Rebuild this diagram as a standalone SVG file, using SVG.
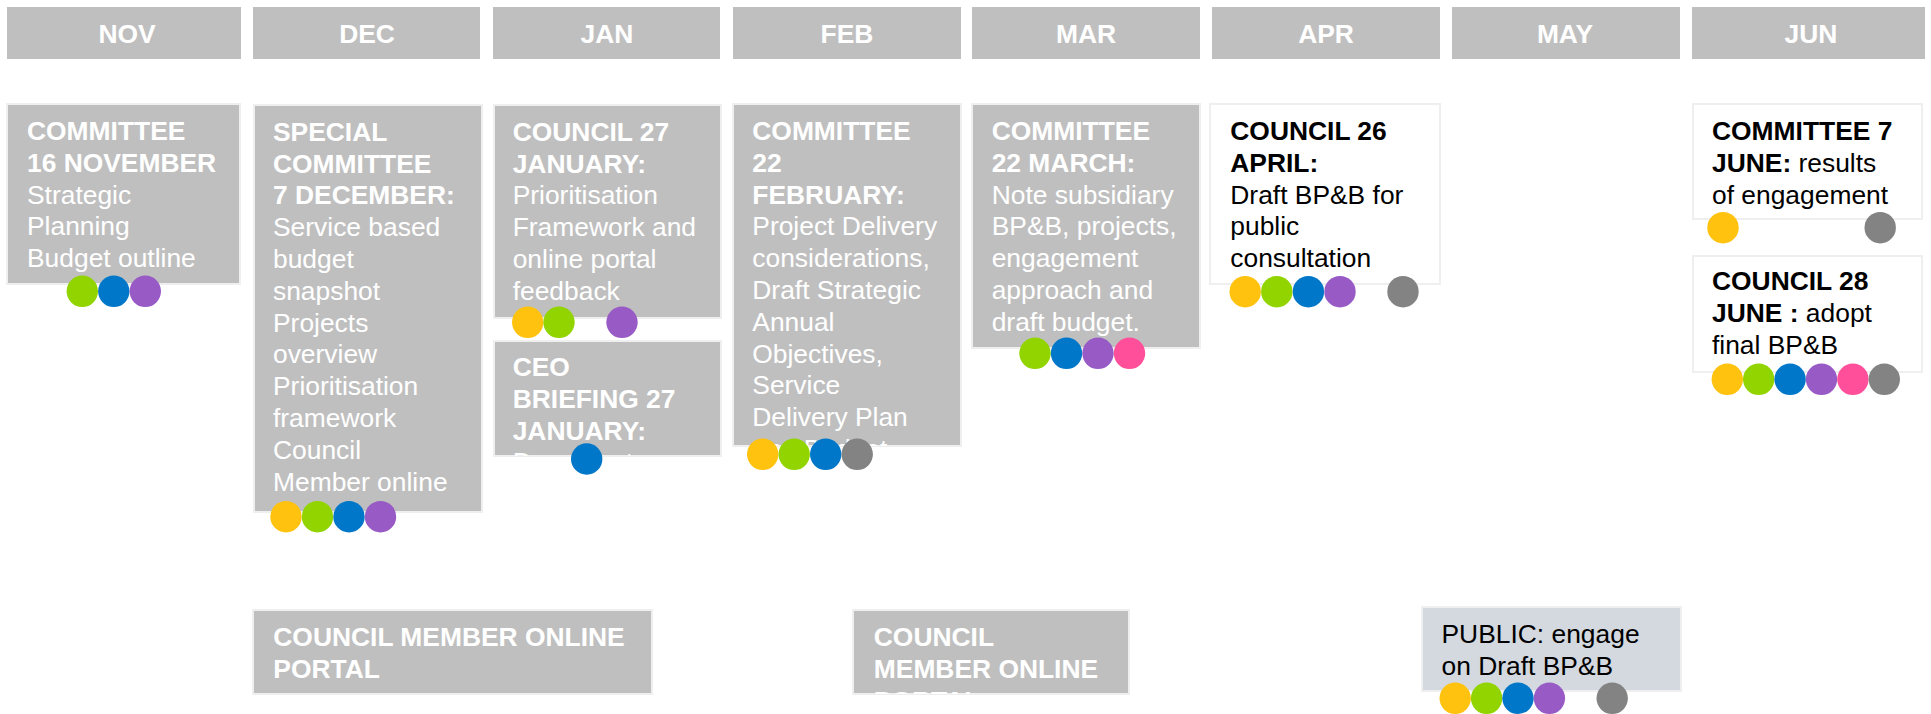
<svg xmlns="http://www.w3.org/2000/svg" width="1931" height="714" viewBox="0 0 1931 714">
<style>
.hd{fill:#bfbfbf}
.card{fill:#bfbfbf;stroke:#efefef;stroke-width:2}
.wcard{fill:#ffffff;stroke:#efefef;stroke-width:2}
.pcard{fill:#d3d9df;stroke:#efefef;stroke-width:2}
text{font-family:"Liberation Sans",Arial,Helvetica,sans-serif;font-size:26.4px}
.w{fill:#ffffff}
.k{fill:#000000}
.b{font-weight:bold}
.m{text-anchor:middle;font-weight:bold;fill:#ffffff}
.cy{fill:#FFC20E}
.cg{fill:#92D400}
.cb{fill:#0077C8}
.cp{fill:#985BC6}
.ck{fill:#FF4F9A}
.cr{fill:#838383}
</style>
<defs>
<clipPath id="clipFeb"><rect x="733" y="104" width="228" height="342"/></clipPath>
<clipPath id="clipCeo"><rect x="494" y="341" width="227" height="115"/></clipPath>
<clipPath id="clipCm2"><rect x="853" y="610" width="276" height="84"/></clipPath>
</defs>
<g id="header">
<rect class="hd" x="7" y="7" width="234" height="52"/>
<rect class="hd" x="253" y="7" width="227" height="52"/>
<rect class="hd" x="493" y="7" width="227" height="52"/>
<rect class="hd" x="733" y="7" width="228" height="52"/>
<rect class="hd" x="972" y="7" width="228" height="52"/>
<rect class="hd" x="1212" y="7" width="228" height="52"/>
<rect class="hd" x="1452" y="7" width="228" height="52"/>
<rect class="hd" x="1692" y="7" width="233" height="52"/>
<text class="m" x="127" y="43">NOV</text>
<text class="m" x="367" y="43">DEC</text>
<text class="m" x="607" y="43">JAN</text>
<text class="m" x="847" y="43">FEB</text>
<text class="m" x="1086" y="43">MAR</text>
<text class="m" x="1326" y="43">APR</text>
<text class="m" x="1565" y="43">MAY</text>
<text class="m" x="1811" y="43">JUN</text>
</g>
<g id="connectors"/>
<g id="nov-committee">
<rect class="card" x="7" y="104" width="233" height="180"/>
<text class="w b" x="27" y="140">COMMITTEE</text>
<text class="w b" x="27" y="171.8">16 NOVEMBER</text>
<text class="w" x="27" y="203.6">Strategic</text>
<text class="w" x="27" y="235.4">Planning</text>
<text class="w" x="27" y="267.2">Budget outline</text>
<circle class="cg" cx="82.3" cy="291.3" r="15.7"/>
<circle class="cb" cx="113.8" cy="291.3" r="15.7"/>
<circle class="cp" cx="145.3" cy="291.3" r="15.7"/>
</g>
<g id="dec-special-committee">
<rect class="card" x="254" y="105" width="228" height="407"/>
<text class="w b" x="273" y="140.7">SPECIAL</text>
<text class="w b" x="273" y="172.5">COMMITTEE</text>
<text class="w b" x="273" y="204.3">7 DECEMBER:</text>
<text class="w" x="273" y="236.1">Service based</text>
<text class="w" x="273" y="267.9">budget</text>
<text class="w" x="273" y="299.7">snapshot</text>
<text class="w" x="273" y="331.5">Projects</text>
<text class="w" x="273" y="363.3">overview</text>
<text class="w" x="273" y="395.1">Prioritisation</text>
<text class="w" x="273" y="426.9">framework</text>
<text class="w" x="273" y="458.7">Council</text>
<text class="w" x="273" y="490.5">Member online</text>
<circle class="cy" cx="286" cy="516.7" r="15.7"/>
<circle class="cg" cx="317.5" cy="516.7" r="15.7"/>
<circle class="cb" cx="349" cy="516.7" r="15.7"/>
<circle class="cp" cx="380.5" cy="516.7" r="15.7"/>
</g>
<g id="jan-council">
<rect class="card" x="494" y="105" width="227" height="213"/>
<text class="w b" x="512.7" y="140.7">COUNCIL 27</text>
<text class="w b" x="512.7" y="172.5">JANUARY:</text>
<text class="w" x="512.7" y="204.3">Prioritisation</text>
<text class="w" x="512.7" y="236.1">Framework and</text>
<text class="w" x="512.7" y="267.9">online portal</text>
<text class="w" x="512.7" y="299.7">feedback</text>
<circle class="cy" cx="527.7" cy="322.3" r="15.7"/>
<circle class="cg" cx="559" cy="322.3" r="15.7"/>
<circle class="cp" cx="622" cy="322.3" r="15.7"/>
</g>
<g id="jan-ceo-briefing">
<rect class="card" x="494" y="341" width="227" height="115"/>
<g clip-path="url(#clipCeo)">
<text class="w b" x="512.7" y="376">CEO</text>
<text class="w b" x="512.7" y="407.8">BRIEFING 27</text>
<text class="w b" x="512.7" y="439.6">JANUARY:</text>
<text class="w" x="512.7" y="471.4">Document</text>
</g>
<circle class="cb" cx="586.7" cy="459" r="15.7"/>
</g>
<g id="feb-committee">
<rect class="card" x="733" y="104" width="228" height="342"/>
<g clip-path="url(#clipFeb)">
<text class="w b" x="752.3" y="140">COMMITTEE</text>
<text class="w b" x="752.3" y="171.8">22</text>
<text class="w b" x="752.3" y="203.6">FEBRUARY:</text>
<text class="w" x="752.3" y="235.4">Project Delivery</text>
<text class="w" x="752.3" y="267.2">considerations,</text>
<text class="w" x="752.3" y="299">Draft Strategic</text>
<text class="w" x="752.3" y="330.8">Annual</text>
<text class="w" x="752.3" y="362.6">Objectives,</text>
<text class="w" x="752.3" y="394.4">Service</text>
<text class="w" x="752.3" y="426.2">Delivery Plan</text>
<text class="w" x="752.3" y="458">and Budget</text>
</g>
<circle class="cy" cx="762.7" cy="454.3" r="15.7"/>
<circle class="cg" cx="794.2" cy="454.3" r="15.7"/>
<circle class="cb" cx="825.7" cy="454.3" r="15.7"/>
<circle class="cr" cx="857.2" cy="454.3" r="15.7"/>
</g>
<g id="mar-committee">
<rect class="card" x="972" y="104" width="228" height="244"/>
<text class="w b" x="991.7" y="140">COMMITTEE</text>
<text class="w b" x="991.7" y="171.8">22 MARCH:</text>
<text class="w" x="991.7" y="203.6">Note subsidiary</text>
<text class="w" x="991.7" y="235.4">BP&amp;B, projects,</text>
<text class="w" x="991.7" y="267.2">engagement</text>
<text class="w" x="991.7" y="299">approach and</text>
<text class="w" x="991.7" y="330.8">draft budget.</text>
<circle class="cg" cx="1035" cy="353.3" r="15.7"/>
<circle class="cb" cx="1066.5" cy="353.3" r="15.7"/>
<circle class="cp" cx="1098" cy="353.3" r="15.7"/>
<circle class="ck" cx="1129.5" cy="353.3" r="15.7"/>
</g>
<g id="apr-council">
<rect class="wcard" x="1210" y="104" width="230" height="180"/>
<text class="k b" x="1230.3" y="140">COUNCIL 26</text>
<text class="k b" x="1230.3" y="171.8">APRIL:</text>
<text class="k" x="1230.3" y="203.6">Draft BP&amp;B for</text>
<text class="k" x="1230.3" y="235.4">public</text>
<text class="k" x="1230.3" y="267.2">consultation</text>
<circle class="cy" cx="1245.2" cy="291.7" r="15.7"/>
<circle class="cg" cx="1276.8" cy="291.7" r="15.7"/>
<circle class="cb" cx="1308.4" cy="291.7" r="15.7"/>
<circle class="cp" cx="1340" cy="291.7" r="15.7"/>
<circle class="cr" cx="1403" cy="291.7" r="15.7"/>
</g>
<g id="jun-committee">
<rect class="wcard" x="1693" y="104" width="229" height="115"/>
<text class="k b" x="1712" y="140">COMMITTEE 7</text>
<text class="k" x="1712" y="171.8"><tspan class="b">JUNE:</tspan> results</text>
<text class="k" x="1712" y="203.6">of engagement</text>
<circle class="cy" cx="1723" cy="227.7" r="15.7"/>
<circle class="cr" cx="1880.2" cy="227.7" r="15.7"/>
</g>
<g id="jun-council">
<rect class="wcard" x="1693" y="256" width="229" height="116"/>
<text class="k b" x="1712" y="290">COUNCIL 28</text>
<text class="k" x="1712" y="321.8"><tspan class="b">JUNE :</tspan> adopt</text>
<text class="k" x="1712" y="353.6">final BP&amp;B</text>
<circle class="cy" cx="1727.3" cy="379.3" r="15.7"/>
<circle class="cg" cx="1758.7" cy="379.3" r="15.7"/>
<circle class="cb" cx="1790.1" cy="379.3" r="15.7"/>
<circle class="cp" cx="1821.5" cy="379.3" r="15.7"/>
<circle class="ck" cx="1852.9" cy="379.3" r="15.7"/>
<circle class="cr" cx="1884.3" cy="379.3" r="15.7"/>
</g>
<g id="portal-dec">
<rect class="card" x="253" y="610" width="399" height="84"/>
<text class="w b" x="273.3" y="646">COUNCIL MEMBER ONLINE</text>
<text class="w b" x="273.3" y="677.8">PORTAL</text>
</g>
<g id="portal-feb">
<rect class="card" x="853" y="610" width="276" height="84"/>
<g clip-path="url(#clipCm2)">
<text class="w b" x="873.8" y="646">COUNCIL</text>
<text class="w b" x="873.8" y="677.8">MEMBER ONLINE</text>
<text class="w b" x="873.8" y="709.6">PORTAL</text>
</g>
</g>
<g id="public-engage">
<rect class="pcard" x="1422" y="607" width="259" height="84"/>
<text class="k" x="1441.5" y="643.3">PUBLIC: engage</text>
<text class="k" x="1441.5" y="675">on Draft BP&amp;B</text>
<circle class="cy" cx="1455.2" cy="698.3" r="15.7"/>
<circle class="cg" cx="1486.6" cy="698.3" r="15.7"/>
<circle class="cb" cx="1518" cy="698.3" r="15.7"/>
<circle class="cp" cx="1549.4" cy="698.3" r="15.7"/>
<circle class="cr" cx="1612.2" cy="698.3" r="15.7"/>
</g>
</svg>
